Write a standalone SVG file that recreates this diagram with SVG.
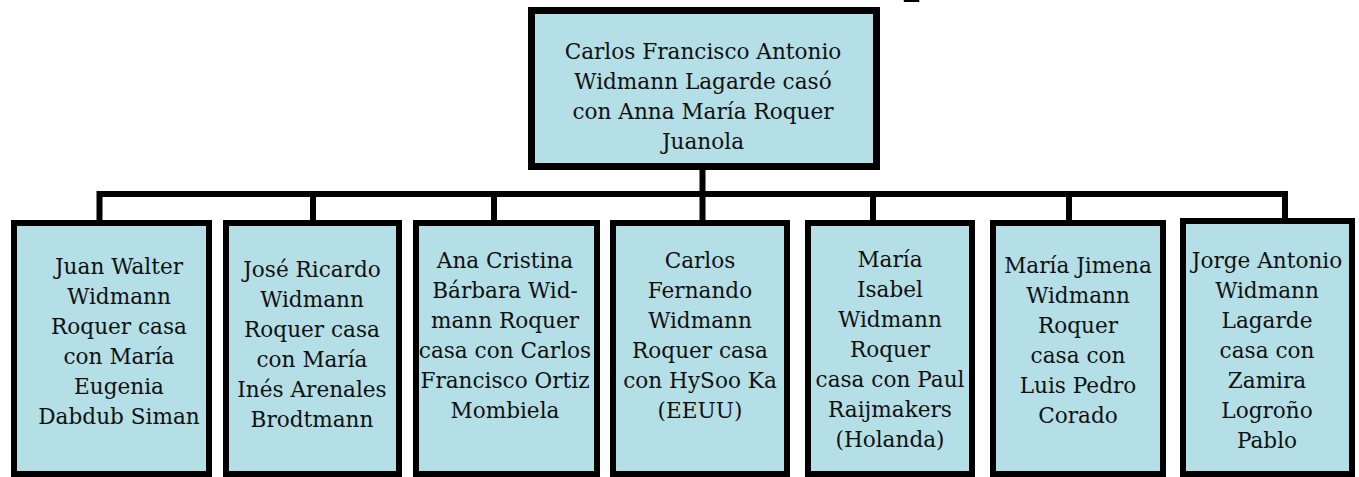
<svg xmlns="http://www.w3.org/2000/svg" width="1359" height="477" viewBox="0 0 1359 477">
<style>
.box{fill:#b4dfe6;stroke:#000;stroke-width:6}
.top{stroke-width:7}
.t{font-family:"DejaVu Serif","Liberation Serif",serif;font-size:21.6px;fill:#111;text-anchor:middle}
.ln{stroke:#000;stroke-width:6;fill:none}
</style>
<rect width="1359" height="477" fill="#fff"/>
<text x="903" y="-11" font-family="Liberation Serif, serif" font-weight="bold" font-size="60" fill="#000">p</text>
<g id="connectors">
<line class="ln" x1="702.5" y1="170" x2="702.5" y2="220"/>
<path class="ln" d="M99.5 220 V194 H1285 V220"/>
<line class="ln" x1="313" y1="194" x2="313" y2="220"/>
<line class="ln" x1="494" y1="194" x2="494" y2="220"/>
<line class="ln" x1="873" y1="194" x2="873" y2="220"/>
<line class="ln" x1="1069" y1="194" x2="1069" y2="220"/>
</g>
<g id="n0">
<rect class="box top" x="531.5" y="10.5" width="345" height="156"/>
<text class="t" x="703"><tspan x="703" y="58.5">Carlos Francisco Antonio</tspan><tspan x="703" y="88.5">Widmann Lagarde casó</tspan><tspan x="703" y="118.5">con Anna María Roquer</tspan><tspan x="703" y="148.5">Juanola</tspan></text>
</g>
<g id="n1">
<rect class="box" x="14" y="223" width="195" height="251"/>
<text class="t"><tspan x="119" y="274">Juan Walter</tspan><tspan x="119" y="304">Widmann</tspan><tspan x="119" y="334">Roquer casa</tspan><tspan x="119" y="364">con María</tspan><tspan x="119" y="394">Eugenia</tspan><tspan x="119" y="424">Dabdub Siman</tspan></text>
</g>
<g id="n2">
<rect class="box" x="226" y="223" width="173" height="251"/>
<text class="t"><tspan x="312" y="277">José Ricardo</tspan><tspan x="312" y="307">Widmann</tspan><tspan x="312" y="337">Roquer casa</tspan><tspan x="312" y="367">con María</tspan><tspan x="312" y="397">Inés Arenales</tspan><tspan x="312" y="427">Brodtmann</tspan></text>
</g>
<g id="n3">
<rect class="box" x="416" y="223" width="181" height="251"/>
<text class="t"><tspan x="505" y="268">Ana Cristina</tspan><tspan x="505" y="298">Bárbara Wid-</tspan><tspan x="505" y="328">mann Roquer</tspan><tspan x="505" y="358">casa con Carlos</tspan><tspan x="505" y="388">Francisco Ortiz</tspan><tspan x="505" y="418">Mombiela</tspan></text>
</g>
<g id="n4">
<rect class="box" x="613" y="223" width="174" height="251"/>
<text class="t"><tspan x="700" y="268">Carlos</tspan><tspan x="700" y="298">Fernando</tspan><tspan x="700" y="328">Widmann</tspan><tspan x="700" y="358">Roquer casa</tspan><tspan x="700" y="388">con HySoo Ka</tspan><tspan x="700" y="418">(EEUU)</tspan></text>
</g>
<g id="n5">
<rect class="box" x="808" y="223" width="164" height="251"/>
<text class="t"><tspan x="890" y="267">María</tspan><tspan x="890" y="297">Isabel</tspan><tspan x="890" y="327">Widmann</tspan><tspan x="890" y="357">Roquer</tspan><tspan x="890" y="387">casa con Paul</tspan><tspan x="890" y="417">Raijmakers</tspan><tspan x="890" y="447">(Holanda)</tspan></text>
</g>
<g id="n6">
<rect class="box" x="993" y="223" width="170" height="251"/>
<text class="t"><tspan x="1078" y="273">María Jimena</tspan><tspan x="1078" y="303">Widmann</tspan><tspan x="1078" y="333">Roquer</tspan><tspan x="1078" y="363">casa con</tspan><tspan x="1078" y="393">Luis Pedro</tspan><tspan x="1078" y="423">Corado</tspan></text>
</g>
<g id="n7">
<rect class="box" x="1183" y="221" width="169" height="253"/>
<text class="t"><tspan x="1267" y="268">Jorge Antonio</tspan><tspan x="1267" y="298">Widmann</tspan><tspan x="1267" y="328">Lagarde</tspan><tspan x="1267" y="358">casa con</tspan><tspan x="1267" y="388">Zamira</tspan><tspan x="1267" y="418">Logroño</tspan><tspan x="1267" y="448">Pablo</tspan></text>
</g>
</svg>
